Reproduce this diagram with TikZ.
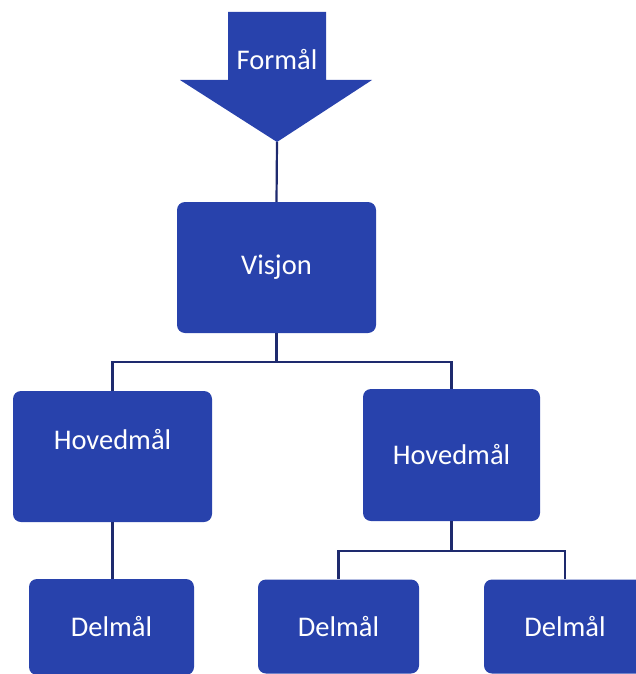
\documentclass[tikz,border=0pt]{standalone}
\usepackage{fontspec}
\setmainfont{Carlito}
\definecolor{boxblue}{RGB}{40,66,172}
\definecolor{linenavy}{RGB}{30,42,110}
\tikzset{
  box/.style={fill=boxblue, rounded corners=8pt, inner sep=0pt, text=white,
    font=\fontsize{28.5}{34}\selectfont},
  conn/.style={draw=linenavy, line width=2.2pt},
}
\begin{document}
\begin{tikzpicture}[x=1pt,y=-1pt]
\useasboundingbox (0,0) rectangle (636,674);
% Formål arrow
\fill[boxblue] (228,12) -- (326,12) -- (326,80) -- (372,80) -- (277,142)
  -- (180,80) -- (228,80) -- cycle;
\node[text=white, font=\fontsize{28.5}{34}\selectfont] (formal) at (277,60) {Formål};
\coordinate (tip) at (277,142);
% boxes
\node[box, minimum width=199pt, minimum height=131pt] (vis) at (276.5,267.5) {Visjon};
\node[box, minimum width=199pt, minimum height=131pt,
  label={[text=white, font=\fontsize{28.5}{34}\selectfont, yshift=16.5pt]center:Hovedmål}] (hl) at (112.5,456.5) {};
\node[box, minimum width=177pt, minimum height=132pt] (hr) at (451.5,455) {Hovedmål};
\node[box, minimum width=165pt, minimum height=96pt] (dl) at (111.5,627) {Delmål};
\node[box, minimum width=161pt, minimum height=94pt] (dm) at (338.5,626.5) {Delmål};
\node[box, minimum width=162pt, minimum height=94pt] (dr) at (565,626.5) {Delmål};
% connectors
\draw[conn] (tip) -- (vis.north);
\draw[conn] (vis.south) -- ++(0,29) -| (hl.north);
\draw[conn] (vis.south) -- ++(0,29) -| (hr.north);
\draw[conn] (hl.south) -- (hl.south |- dl.north);
\draw[conn] (hr.south) -- ++(0,30) -| (dm.north);
\draw[conn] (hr.south) -- ++(0,30) -| (dr.north);
\end{tikzpicture}
\end{document}
